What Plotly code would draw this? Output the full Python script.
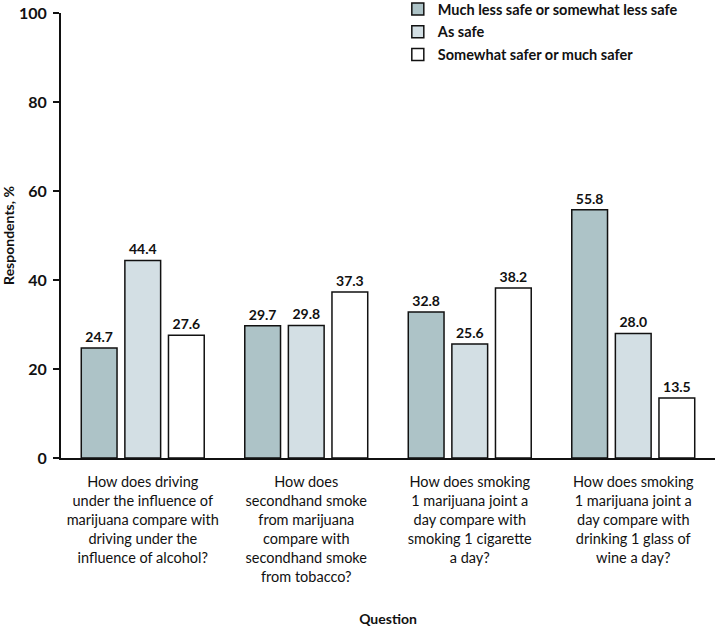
import plotly.graph_objects as go

questions = [
    "How does driving<br>under the influence of<br>marijuana compare with<br>driving under the<br>influence of alcohol?",
    "How does<br>secondhand smoke<br>from marijuana<br>compare with<br>secondhand smoke<br>from tobacco?",
    "How does smoking<br>1 marijuana joint a<br>day compare with<br>smoking 1 cigarette<br>a day?",
    "How does smoking<br>1 marijuana joint a<br>day compare with<br>drinking 1 glass of<br>wine a day?",
]
less_safe = [24.7, 29.7, 32.8, 55.8]
as_safe = [44.4, 29.8, 25.6, 28.0]
safer = [27.6, 37.3, 38.2, 13.5]

series = [
    ("Much less safe or somewhat less safe", less_safe, "#adc3c7"),
    ("As safe", as_safe, "#d3dfe4"),
    ("Somewhat safer or much safer", safer, "#ffffff"),
]

fnt = "Lato, 'Open Sans', sans-serif"

fig = go.Figure()
for name, vals, col in series:
    fig.add_trace(go.Bar(
        x=questions, y=vals, name=name, legendgroup=name,
        marker=dict(color=col, line=dict(color="#111111", width=1.5)),
        text=["%.1f" % v for v in vals], textposition="outside",
        textfont=dict(size=14, color="#111111", family=fnt, weight="bold"),
        cliponaxis=False,
    ))

fig.update_layout(
    width=721, height=629,
    margin=dict(l=61, r=6, t=13, b=171, autoexpand=False),
    plot_bgcolor="white", paper_bgcolor="white",
    barmode="group", bargap=0.2, bargroupgap=0.18,
    font=dict(family=fnt, size=14, color="#111111"),
    legend=dict(x=0.515, y=1.045, xanchor="left", yanchor="top",
                font=dict(size=14.5, weight="bold"), tracegroupgap=1,
                bgcolor="rgba(0,0,0,0)"),
    xaxis=dict(showline=True, linecolor="#111111", linewidth=2, ticks="",
               tickfont=dict(size=14.5), automargin=False, ticklabelstandoff=10,
               title=dict(text="<b>Question</b>", font=dict(size=14), standoff=31)),
    yaxis=dict(range=[0, 100], dtick=20,
               showline=True, linecolor="#111111",
               linewidth=2, ticks="outside", ticklen=6, tickwidth=2,
               tickcolor="#111111", showgrid=False, zeroline=False,
               tickfont=dict(size=16, weight="bold"), automargin=False,
               ticklabelstandoff=3,
               title=dict(text="<b>Respondents, %</b>", font=dict(size=14), standoff=12)),
)

# drop the default 8px page margin so the figure sits at the window corner
fig.write_html("out.html", config={"displayModeBar": False},
               post_script="document.body.style.margin='0px';")
